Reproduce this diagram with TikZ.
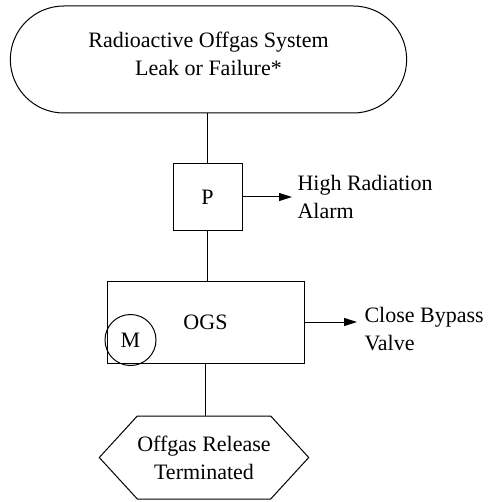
\documentclass[tikz,border=0pt]{standalone}
\usepackage{fontspec}
\setmainfont{Liberation Serif}
\usetikzlibrary{positioning,arrows.meta,shapes.misc,shapes.symbols}
\tikzset{
  event/.style={draw, rounded rectangle, minimum width=403pt, minimum height=107pt, align=center, text depth=12pt},
  box/.style={draw, minimum width=#1, inner sep=0pt},
  box/.default={69pt},
  mon/.style={draw, circle, minimum size=51pt, inner sep=0pt},
  outcome/.style={draw, signal, signal to=east and west, signal pointer angle=95, minimum width=198pt, minimum height=83pt, align=center, inner sep=0pt},
  arrow/.style={-{Triangle[length=13pt, width=8pt]}, shorten >=#1},
  arrow/.default={5pt},
  lbl/.style={align=left, anchor=west, inner sep=0pt}
}

\begin{document}
\begin{tikzpicture}[x=1pt, y=-1pt, line width=1pt, font=\fontsize{22}{28}\selectfont]
    \useasboundingbox (0,0) rectangle (488,502);
    \node[event] (leak) at (208.5,59.5) {Radioactive Offgas System\\ Leak or Failure*};
    \node[box, minimum height=66pt] (p) at (207.5,197) {P};
    \node[box={197pt}, minimum height=82pt] (ogs) at (205.5,322) {OGS};
    \node[mon] (m) at (130.5,340) {M};
    \node[outcome] (rel) at (204,457.5) {Offgas Release\\ Terminated};
    \node[lbl] (alarm) at (297,197) {High Radiation\\ Alarm};
    \node[lbl] (bypass) at (364,329) {Close Bypass\\ Valve};
    \draw (leak.south -| p.north) -- (p.north);
    \draw (p.south) -- (p.south |- ogs.north);
    \draw (ogs.south) -- (ogs.south |- rel.north);
    \draw[arrow] (p.east) -- (alarm.west);
    \draw[arrow=7pt] (ogs.east) -- (ogs.east -| bypass.west);
  \end{tikzpicture}
\end{document}
